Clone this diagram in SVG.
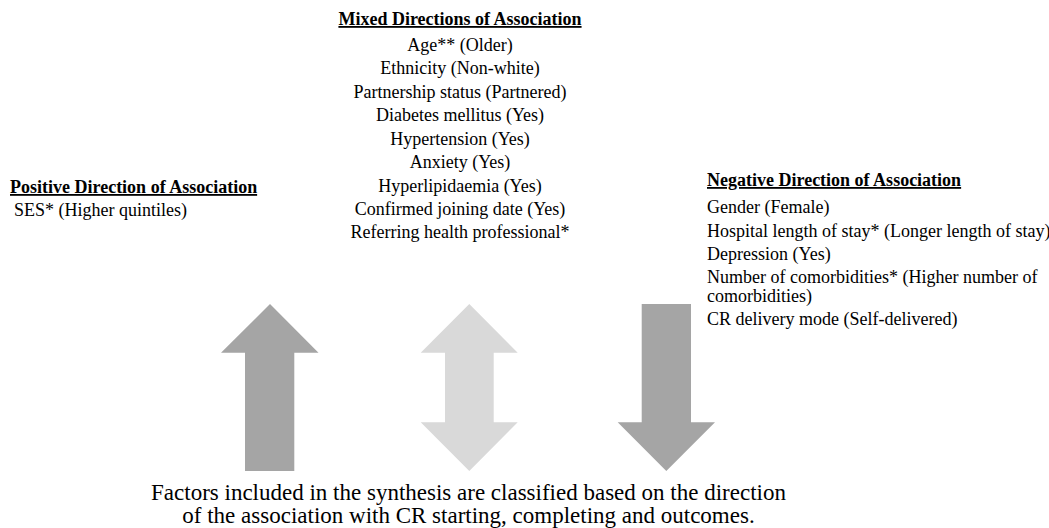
<svg xmlns="http://www.w3.org/2000/svg" width="1049" height="528" viewBox="0 0 1049 528">
<style>
text{font-family:"Liberation Serif","Times New Roman",serif;fill:#000;font-size:18px}
.h{font-weight:bold;text-decoration:underline}
.m{text-anchor:middle}
.cap{font-size:23px;text-anchor:middle}
.dark{fill:#a5a5a5}
.light{fill:#d9d9d9}
</style>
<rect width="1049" height="528" fill="#fff"/>
<g id="positive">
<text class="h" x="10" y="193">Positive Direction of Association</text>
<text x="14" y="216">SES* (Higher quintiles)</text>
</g>
<g id="mixed">
<text class="h m" x="460" y="25">Mixed Directions of Association</text>
<text class="m" x="460" y="51">Age** (Older)</text>
<text class="m" x="460" y="74">Ethnicity (Non-white)</text>
<text class="m" x="460" y="98">Partnership status (Partnered)</text>
<text class="m" x="460" y="121">Diabetes mellitus (Yes)</text>
<text class="m" x="460" y="145">Hypertension (Yes)</text>
<text class="m" x="460" y="168">Anxiety (Yes)</text>
<text class="m" x="460" y="192">Hyperlipidaemia (Yes)</text>
<text class="m" x="460" y="215">Confirmed joining date (Yes)</text>
<text class="m" x="460" y="238">Referring health professional*</text>
</g>
<g id="negative">
<text class="h" x="707" y="186">Negative Direction of Association</text>
<text x="707" y="213">Gender (Female)</text>
<text x="707" y="237">Hospital length of stay* (Longer length of stay)</text>
<text x="707" y="260">Depression (Yes)</text>
<text x="707" y="283">Number of comorbidities* (Higher number of</text>
<text x="707" y="301.5">comorbidities)</text>
<text x="707" y="325">CR delivery mode (Self-delivered)</text>
</g>
<g id="arrows">
<polygon class="dark" points="270,304 318.5,352.7 294.3,352.7 294.3,471 245,471 245,352.7 221,352.7"/>
<polygon class="light" points="469.3,304 517.7,352.7 493.7,352.7 493.7,422.3 517.7,422.3 469.3,471 420.7,422.3 445,422.3 445,352.7 420.7,352.7"/>
<polygon class="dark" points="641.7,304 691,304 691,422.3 715,422.3 666.3,471 617.7,422.3 641.7,422.3"/>
</g>
<g id="caption">
<text class="cap" x="468.5" y="500">Factors included in the synthesis are classified based on the direction</text>
<text class="cap" x="468.5" y="523">of the association with CR starting, completing and outcomes.</text>
</g>
</svg>
